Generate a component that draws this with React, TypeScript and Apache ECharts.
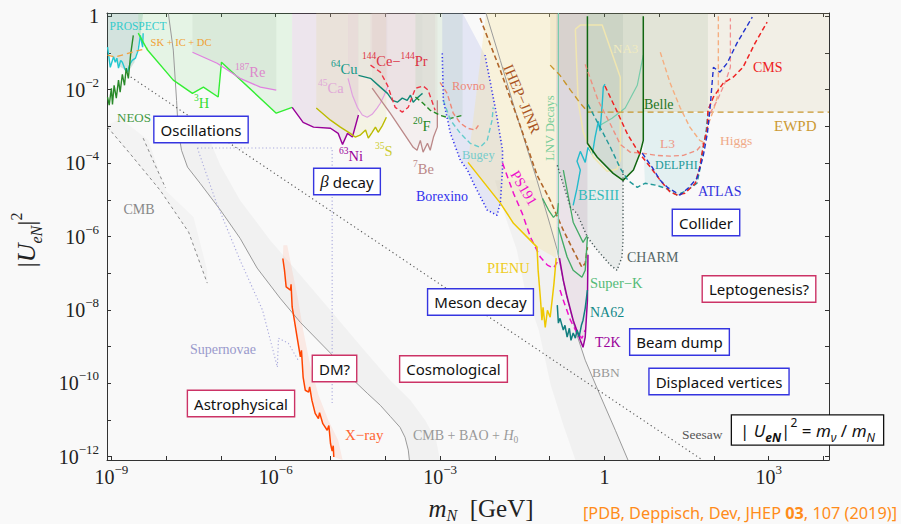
import React, { useEffect, useRef } from 'react';
import * as echarts from 'echarts';

// Every coordinate below is a decimal exponent: [log10(m_N / GeV), log10 |U_eN|^2]
const X_MIN = -9.08;
const X_MAX = 4.1;
const Y_MIN = -12.09;
const Y_MAX = 0.09;

const xTickExps = [-9, -8, -7, -6, -5, -4, -3, -2, -1, 0, 1, 2, 3, 4];
const xLabelExps = [-9, -6, -3, 0, 3];
const yTickExps = [-12, -11, -10, -9, -8, -7, -6, -5, -4, -3, -2, -1, 0];
const yLabelExps = [-12, -10, -8, -6, -4, -2, 0];

// ---- oscillation experiments ----
const neos = [[-9.07, -2.2], [-9.04, -2.42], [-9.0, -1.96], [-8.98, -2.4], [-8.95, -1.88], [-8.91, -2.23], [-8.87, -1.74], [-8.84, -2.07], [-8.8, -1.58], [-8.76, -1.88], [-8.73, -1.41], [-8.69, -1.69], [-8.65, -1.06], [-8.6, -0.52]];
const prospect = [[-9.07, -0.84], [-9.02, -1.39], [-8.96, -1.1], [-8.93, -1.25], [-8.9, -1.14], [-8.87, -1.41], [-8.83, -1.2], [-8.8, -1.25], [-8.75, -1.45], [-8.71, -1.52], [-8.66, -1.3], [-8.62, -1.2], [-8.56, -1.14], [-8.51, -0.92], [-8.47, -0.52], [-8.43, -0.84], [-8.42, -0.46]];
const prospectRegion = [[-9.07, Y_MAX], [-9.07, -0.92], [-8.87, -1.35], [-8.69, -1.52], [-8.58, -1.25], [-8.47, -0.52], [-8.42, Y_MAX]];
const skIcDc = [[-9.07, -1.06], [-8.93, -1.11], [-8.74, -1.03], [-8.56, -0.95], [-8.34, -0.87]];

// ---- beta decay ----
const tritium = [[-8.51, -0.46], [-8.34, -0.92], [-7.87, -1.74], [-7.52, -2.1], [-7.32, -1.93], [-7.05, -2.2], [-6.99, -1.25], [-5.99, -2.64], [-5.7, -2.48]];
const rhenium = [[-7.52, -0.98], [-7.07, -1.28], [-6.65, -1.69], [-6.28, -1.93], [-5.99, -2.01]];
const nickel = [[-5.7, -2.48], [-5.5, -2.89], [-5.31, -3.02], [-5.0, -3.05], [-4.86, -3.19], [-4.78, -3.49], [-4.69, -3.19], [-4.6, -3.29], [-4.49, -2.69]];
const sulfur = [[-5.26, -2.5], [-5.0, -2.83], [-4.82, -3.02], [-4.64, -3.19], [-4.55, -3.29], [-4.46, -3.24], [-4.36, -3.1], [-4.31, -3.32], [-4.24, -3.16], [-4.18, -3.02], [-4.13, -3.16], [-4.05, -2.97], [-3.98, -2.75]];
const calcium = [[-4.68, -1.69], [-4.6, -2.15], [-4.51, -2.48], [-4.42, -2.69], [-4.33, -2.75], [-4.24, -2.67], [-4.15, -2.5], [-4.09, -2.37], [-4.02, -2.15], [-3.96, -1.93]];
const copper = [[-4.49, -1.61], [-4.27, -1.69], [-4.09, -1.93], [-3.96, -2.1], [-3.87, -2.29], [-3.78, -2.34], [-3.69, -2.23], [-3.6, -2.29], [-3.54, -2.15], [-3.49, -2.34], [-3.42, -2.23], [-3.36, -2.15], [-3.32, -2.1]];
const cePr = [[-4.27, -1.33], [-4.09, -1.52], [-3.96, -1.88], [-3.82, -2.48], [-3.69, -2.61], [-3.58, -2.48], [-3.45, -1.96], [-3.31, -1.9], [-3.22, -2.01], [-3.09, -2.56]];
const beryllium = [[-4.24, -1.96], [-3.91, -2.64], [-3.64, -3.24], [-3.49, -3.57], [-3.42, -3.65], [-3.36, -3.38], [-3.31, -3.7], [-3.23, -3.46], [-3.18, -3.65], [-3.12, -3.29], [-3.05, -3.02], [-3.05, -2.29]];
const fluorine = [[-3.45, -2.2], [-3.31, -2.37], [-3.18, -2.56], [-3.0, -2.7], [-2.81, -2.78], [-2.59, -2.7]];
const rovno = [[-3.0, -1.8], [-2.87, -2.1], [-2.76, -2.64], [-2.63, -2.91], [-2.5, -3.05], [-2.36, -3.1], [-2.3, -2.97]];
const bugey = [[-2.94, -2.29], [-2.81, -2.83], [-2.63, -3.19], [-2.45, -3.46], [-2.27, -3.57], [-2.14, -3.38], [-2.05, -2.83], [-2.03, -2.48]];
const borexino = [[-2.96, -1.01], [-2.94, -2.29], [-2.81, -3.19], [-2.63, -3.92], [-2.5, -4.19], [-2.39, -4.55], [-2.14, -5.28], [-1.96, -5.42], [-1.9, -5.09], [-1.86, -4.19], [-1.86, -3.65], [-1.96, -2.75], [-2.08, -1.82], [-2.18, -1.06]];
const borexinoRegion = [[-2.96, Y_MAX], ...borexino, [-2.59, Y_MAX]];

// ---- meson decays / beam dump ----
const ihepJinr = [[-2.27, -0.05], [-1.9, -1.47], [-1.54, -2.97], [-1.23, -4.33], [-0.99, -5.01], [-0.75, -5.83], [-0.57, -6.37], [-0.41, -6.84], [-0.35, -6.73], [-0.31, -6.29]];
const ps191Upper = [[-1.86, -4.0], [-1.66, -4.82], [-1.5, -5.37], [-1.35, -6.02], [-1.17, -6.56], [-1.04, -6.78], [-0.93, -6.86], [-0.86, -6.7]];
const ps191Lower = [[-0.81, -7.46], [-0.75, -7.74], [-0.62, -8.28], [-0.5, -8.63], [-0.41, -8.77], [-0.35, -8.55]];
const pienu = [[-2.49, -3.98], [-1.9, -5.09], [-1.66, -5.64], [-1.23, -6.29], [-1.21, -6.92], [-1.17, -7.65], [-1.14, -8.28], [-1.12, -7.93], [-1.08, -8.48], [-1.04, -8.01], [-0.99, -8.2], [-0.95, -7.68], [-0.92, -7.27], [-0.88, -6.59]];
const mesonRegion = [[-2.16, Y_MAX], [-0.86, Y_MAX], [-0.88, -6.59], [-1.23, -6.29], [-1.66, -5.64], [-1.9, -5.09], [-2.49, -3.98]];
const t2k = [[-0.82, -6.59], [-0.75, -7.19], [-0.68, -7.65], [-0.57, -8.28], [-0.44, -8.83], [-0.39, -9.02], [-0.35, -8.74], [-0.31, -7.74], [-0.3, -6.5]];
const na62 = [[-0.86, -7.87], [-0.84, -8.36], [-0.81, -8.23], [-0.75, -8.55], [-0.72, -8.42], [-0.68, -8.74], [-0.64, -8.5], [-0.61, -8.83], [-0.57, -8.63], [-0.53, -8.77], [-0.5, -8.55], [-0.46, -8.72], [-0.42, -8.42], [-0.39, -8.28], [-0.35, -7.95], [-0.31, -7.46]];
const superK = [[-0.84, -5.75], [-0.68, -6.56], [-0.57, -6.92], [-0.41, -7.11], [-0.35, -6.92], [-0.31, -6.02]];
const superK2 = [[-0.75, -4.19], [-0.57, -5.61], [-0.39, -6.16], [-0.31, -5.97]];
const superK3 = [[-1.13, -4.96], [-1.02, -5.28], [-0.93, -5.48], [-0.86, -5.37], [-0.84, -5.09]];
const lnvEdge = [[-0.84, Y_MAX], [-0.84, -6.5]];
const lnvUpper = [[0.71, -1.06], [0.6, -1.88], [0.38, -2.5], [0.14, -2.78], [-0.08, -2.97]];
const lnvRegion = [[-0.88, Y_MAX], [-0.31, Y_MAX], [-0.31, -7.74], [-0.35, -8.74], [-0.39, -9.02], [-0.44, -8.83], [-0.57, -8.28], [-0.68, -7.65], [-0.75, -7.19], [-0.82, -6.59], [-0.88, -6.2]];
const besiii = [[-0.57, -5.15], [-0.5, -4.68], [-0.44, -4.19], [-0.5, -3.95], [-0.44, -3.68], [-0.35, -3.98], [-0.3, -3.57], [-0.22, -3.76], [-0.17, -3.29], [-0.11, -2.86], [-0.08, -3.13], [-0.04, -2.4], [-0.02, -1.93], [0.01, -1.85]];
const charm = [[-0.86, -4.06], [-0.62, -5.2], [-0.5, -5.37], [-0.31, -6.02], [-0.13, -6.37], [0.11, -6.78], [0.23, -6.92], [0.32, -6.56], [0.34, -6.1], [0.34, -4.19]];
const na3 = [[-0.53, -0.35], [-0.44, -0.24], [-0.04, -0.24], [0.29, -1.66], [0.29, -3.92], [0.23, -4.17], [0.05, -4.22], [-0.2, -3.84], [-0.39, -3.13], [-0.48, -2.31], [-0.53, -0.35]];

// ---- colliders ----
const belle = [[-0.31, 0.0], [-0.31, -3.46], [-0.13, -3.84], [0.16, -4.28], [0.34, -4.47], [0.53, -4.19], [0.65, -3.73], [0.71, -3.38], [0.71, 0.0]];
const ewpd = [[-0.99, -1.33], [-0.81, -1.61], [-0.62, -2.01], [-0.44, -2.37], [-0.3, -2.61], [4.1, -2.61]];
const colliderUpper = [[0.71, Y_MAX], [1.89, Y_MAX], [1.89, -2.61], [0.71, -2.61]];
const l3 = [[-0.35, -1.31], [-0.11, -2.31], [0.11, -2.94], [0.29, -3.49], [0.47, -3.7], [0.69, -3.73], [0.96, -3.79], [1.2, -3.81], [1.44, -3.79], [1.69, -3.65], [1.8, -3.46]];
const higgsA = [[1.02, -0.98], [1.2, -1.82], [1.38, -2.48], [1.56, -3.02], [1.74, -3.38], [1.84, -3.46]];
const higgsB = [[2.08, 0.0], [2.08, -1.2], [2.08, -2.1], [1.99, -2.56], [1.89, -2.97], [1.84, -3.38]];
const delphi = [[-0.3, -2.4], [-0.08, -3.02], [0.11, -3.57], [0.29, -4.14], [0.43, -4.47], [0.6, -4.66], [0.74, -4.55], [0.93, -4.6], [1.11, -4.68], [1.33, -4.87], [1.51, -4.74], [1.69, -4.55], [1.74, -4.19], [1.8, -3.65], [1.86, -3.1], [1.89, -2.64]];
const delphiRegion = [[0.71, -2.61], [0.71, -3.38], [0.74, -4.55], [0.93, -4.6], [1.11, -4.68], [1.33, -4.87], [1.51, -4.74], [1.69, -4.55], [1.74, -4.19], [1.8, -3.65], [1.86, -3.1], [1.89, -2.64]];
const cms = [[0.01, -1.9], [0.23, -2.59], [0.42, -3.21], [0.62, -3.7], [0.84, -4.11], [1.02, -4.47], [1.2, -4.79], [1.33, -4.87], [1.47, -4.82], [1.66, -4.55], [1.74, -4.11], [1.8, -3.57], [1.88, -3.02], [1.89, -2.56], [1.99, -2.2], [2.17, -1.82], [2.35, -1.66], [2.53, -1.39], [2.75, -0.73], [2.97, -0.16]];
const atlas = [[0.69, -3.73], [0.87, -4.11], [1.02, -4.47], [1.15, -4.66], [1.38, -4.87], [1.53, -4.68], [1.69, -4.41], [1.8, -3.84], [1.88, -3.19], [1.93, -2.48], [1.99, -1.39], [2.11, -1.52], [2.24, -1.28], [2.42, -0.73], [2.7, -0.02]];
const displacedHigh = [[1.93, -2.64], [2.06, -2.29], [2.2, -1.82], [2.3, -1.39], [2.3, -0.05]];

// ---- cosmology and astrophysics ----
const cosmoLine = [[-7.96, 0.08], [-7.87, -0.92], [-7.81, -2.29], [-7.78, -3.1], [-7.72, -3.65], [-7.61, -4.11], [-7.38, -4.55], [-7.01, -5.28], [-6.65, -6.05], [-6.34, -6.86], [-5.92, -7.68], [-5.55, -8.34], [-5.0, -9.18], [-4.64, -9.83], [-4.33, -10.27], [-4.09, -10.6], [-3.91, -10.9], [-3.73, -11.2], [-3.64, -11.47], [-3.58, -11.82], [-3.56, -12.09]];
const cosmoBandEdge = [[-3.0, -12.09], [-3.07, -11.55], [-3.27, -11.01], [-3.54, -10.46], [-3.91, -9.92], [-4.46, -8.96], [-5.0, -8.01], [-5.55, -7.05], [-6.1, -6.1], [-6.65, -5.01], [-7.01, -4.06], [-7.28, -3.1]];
const bbnLine = [[-2.16, 0.08], [-1.9, -1.2], [-1.63, -2.56], [-1.23, -4.47], [-0.99, -5.69], [-0.86, -6.37], [-0.72, -7.46], [-0.53, -8.55], [-0.35, -9.37], [-0.08, -10.32], [0.2, -11.28], [0.43, -12.09]];
const bbnBandEdge = [[-0.53, -12.09], [-0.75, -11.14], [-0.98, -10.05], [-1.2, -8.55], [-1.45, -7.46], [-1.6, -6.37], [-1.8, -5.5], [-2.0, -4.47]];
const cmbRegion = [[-9.07, -2.97], [-8.84, -2.78], [-8.32, -3.38], [-8.01, -4.74], [-7.5, -5.47], [-7.25, -6.92], [-7.25, -7.27], [-7.59, -5.88], [-8.11, -4.74], [-9.07, -3.02]];
const cmbEdgeA = [[-9.07, -3.02], [-8.65, -3.76], [-8.11, -4.74], [-7.59, -5.88], [-7.25, -7.27]];
const cmbEdgeB = [[-8.42, -3.32], [-8.2, -4.06], [-8.01, -4.68]];
const supernovaA = [[-7.43, -3.59], [-4.97, -3.59], [-4.97, -10.54]];
const supernovaB = [[-7.43, -3.59], [-7.1, -5.01], [-6.65, -6.65], [-6.24, -8.01], [-5.97, -9.56], [-5.95, -8.77], [-5.77, -8.91], [-5.59, -9.37]];
const seesaw = [[-8.71, -1.59], [1.79, -12.09]];
const xray = [[-5.87, -6.6], [-5.84, -6.92], [-5.81, -7.37], [-5.73, -7.46], [-5.72, -7.3], [-5.7, -7.92], [-5.66, -8.28], [-5.61, -8.74], [-5.55, -9.28], [-5.53, -9.1], [-5.5, -9.83], [-5.46, -10.19], [-5.4, -10.24], [-5.38, -10.1], [-5.34, -10.46], [-5.28, -10.82], [-5.22, -10.96], [-5.2, -10.8], [-5.14, -11.1], [-5.06, -11.28], [-5.03, -11.15], [-5.0, -11.64], [-4.97, -11.85], [-4.95, -11.7], [-4.94, -12.01]];
const xrayBandEdge = [[-4.78, -12.09], [-4.86, -11.55], [-5.04, -11.01], [-5.22, -10.32], [-5.37, -9.51], [-5.5, -8.55], [-5.59, -7.74], [-5.7, -6.92], [-5.79, -6.24], [-5.86, -6.24]];

const SERIF = '"Liberation Serif", "DejaVu Serif", serif';
const SANS = '"Noto Sans", "Open Sans", sans-serif';

const above = (c: number[][]) => [...c, [c[c.length - 1][0], Y_MAX], [c[0][0], Y_MAX]];

const region = (pts: number[][], color: string) => ({
  type: 'custom',
  silent: true,
  z: 1,
  data: [pts[0]],
  renderItem: (_p: any, api: any) => ({
    type: 'polygon',
    shape: { points: pts.map((q) => api.coord(q)) },
    style: { fill: color },
  }),
});

const curve = (data: number[][], color: string, width = 1.2, type: any = 'solid') => ({
  type: 'line',
  silent: true,
  z: 3,
  data,
  symbol: 'none',
  lineStyle: { color, width, type },
});

const DASH = [5, 3];
const DOT = [1.2, 2.4];

const tag = (x: number, y: number, text: string, color: string, size: number, align = 'left', rotation = 0) => ({
  type: 'text', x, y, rotation, z: 100, silent: true,
  style: { text, fill: color, fontFamily: SERIF, fontSize: size, align, verticalAlign: 'middle' },
});

const iso = (x: number, y: number, text: string, color: string) => ({
  type: 'text', x, y, z: 100, silent: true,
  style: {
    text, fill: color, align: 'left', verticalAlign: 'middle',
    rich: {
      s: { fontFamily: SERIF, fontSize: 9.5, fill: color, verticalAlign: 'top' },
      n: { fontFamily: SERIF, fontSize: 14.5, fill: color, lineHeight: 20 },
    },
  },
});

const box = (x: number, y: number, text: string, border: string, rich?: any) => ({
  type: 'text', x, y, z: 110, silent: true,
  style: {
    text, fill: '#111', fontFamily: SANS, fontSize: 15, lineHeight: 17,
    align: 'center', verticalAlign: 'middle', backgroundColor: '#fff',
    borderColor: border, borderWidth: 1.4, padding: [4, 6, 4, 6], rich,
  },
});

const BLUE = '#3535e0';
const CRIMSON = '#cc3366';

const expLabel = (v: number) => (v === 0 ? '{b|1}' : `{b|10}{s|${v < 0 ? '−' : ''}${Math.abs(v)}}`);
const labelRich = {
  b: { fontFamily: SERIF, fontSize: 20, lineHeight: 28, color: '#222' },
  s: { fontFamily: SERIF, fontSize: 13, verticalAlign: 'top', color: '#222' },
};

const axisCommon = {
  type: 'value',
  axisLine: { show: true, onZero: false, lineStyle: { color: '#333', width: 1 } },
  splitLine: { show: false },
};

const option: any = {
  animation: false,
  backgroundColor: '#f9f9f9',
  grid: { left: 107, right: 72, top: 13, bottom: 64 },
  xAxis: [
    {
      ...axisCommon, min: X_MIN, max: X_MAX, position: 'bottom',
      axisTick: { inside: true, length: 4, customValues: xTickExps, lineStyle: { color: '#333' } },
      axisLabel: { customValues: xLabelExps, formatter: expLabel, rich: labelRich, margin: 3 },
    },
    {
      ...axisCommon, min: X_MIN, max: X_MAX, position: 'top',
      axisTick: { inside: true, length: 4, customValues: xTickExps, lineStyle: { color: '#333' } },
      axisLabel: { show: false },
    },
  ],
  yAxis: [
    {
      ...axisCommon, min: Y_MIN, max: Y_MAX, position: 'left',
      axisTick: { inside: true, length: 4, customValues: yTickExps, lineStyle: { color: '#333' } },
      axisLabel: { customValues: yLabelExps, formatter: expLabel, rich: labelRich, margin: 8 },
    },
    {
      ...axisCommon, min: Y_MIN, max: Y_MAX, position: 'right',
      axisTick: { inside: true, length: 4, customValues: yTickExps, lineStyle: { color: '#333' } },
      axisLabel: { show: false },
    },
  ],
  series: [
    // shaded regions
    region([...cosmoLine.slice(3), ...cosmoBandEdge], 'rgba(0,0,0,0.03)'),
    region([...bbnLine.slice(3), ...bbnBandEdge], 'rgba(0,0,0,0.03)'),
    region(cmbRegion, 'rgba(0,0,0,0.022)'),
    region([...xray, ...xrayBandEdge], 'rgba(255,140,110,0.15)'),
    region(prospectRegion, 'rgba(90,160,140,0.24)'),
    region(above(tritium), 'rgba(100,220,100,0.13)'),
    region(above(rhenium), 'rgba(110,130,110,0.09)'),
    region(above(nickel), 'rgba(170,110,170,0.14)'),
    region(above(sulfur), 'rgba(215,210,120,0.16)'),
    region(above(calcium), 'rgba(220,170,220,0.1)'),
    region(above(copper), 'rgba(150,190,180,0.08)'),
    region(above(cePr), 'rgba(230,180,200,0.14)'),
    region(above(beryllium), 'rgba(210,170,170,0.12)'),
    region(above(fluorine), 'rgba(150,200,150,0.18)'),
    region(borexinoRegion, 'rgba(120,130,220,0.16)'),
    region(mesonRegion, 'rgba(245,225,150,0.3)'),
    region(lnvRegion, 'rgba(160,110,150,0.16)'),
    region(above(ewpd), 'rgba(200,180,110,0.13)'),
    region(colliderUpper, 'rgba(90,140,90,0.1)'),
    region(above(belle), 'rgba(70,120,70,0.14)'),
    region(above(charm), 'rgba(100,130,120,0.1)'),
    region(delphiRegion, 'rgba(110,190,200,0.16)'),
    // cosmology and astrophysics
    curve(cosmoLine, '#9a9a9a', 1),
    curve(bbnLine, '#9a9a9a', 1),
    curve(cmbEdgeA, '#888', 1, [3, 3]),
    curve(cmbEdgeB, '#888', 1, [3, 3]),
    curve(supernovaA, '#a9a9dd', 1.1, DOT),
    curve(supernovaB, '#a9a9dd', 1.1, DOT),
    curve(seesaw, '#555', 1.1, [1.2, 3]),
    curve(xray, '#ff4400', 1.5),
    // oscillations
    curve(prospect, '#22c8d0', 1.4),
    curve(neos, '#2a8a2a', 1.4),
    curve(skIcDc, '#f0a040', 1.3, [6, 4]),
    // beta decay
    curve(tritium, '#33ee33', 1.4),
    curve(rhenium, '#e080e0', 1.3),
    curve(nickel, '#990099', 1.4),
    curve(sulfur, '#bbbb00', 1.4),
    curve(calcium, '#e0a0e0', 1.2),
    curve(copper, '#118877', 1.4),
    curve(cePr, '#ee3344', 1.4, DASH),
    curve(beryllium, '#bb8888', 1.3),
    curve(fluorine, '#228822', 1.4, DASH),
    curve(rovno, '#ee8877', 1.4, DASH),
    curve(bugey, '#66cccc', 1.4, DASH),
    curve(borexino, '#3333ee', 1.6, DOT),
    // meson decays and beam dumps
    curve(ihepJinr, '#b0662a', 1.6, DASH),
    curve(ps191Upper, '#ee11cc', 1.5, [6, 4]),
    curve(ps191Lower, '#ee11cc', 1.5, [6, 4]),
    curve(pienu, '#eec800', 1.5),
    curve(lnvEdge, '#77ccaa', 1.2),
    curve(lnvUpper, '#77ccaa', 1.2),
    curve(superK3, '#44aa66', 1.3),
    curve(superK2, '#44aa66', 1.3),
    curve(superK, '#44aa66', 1.4),
    curve(t2k, '#990099', 1.5),
    curve(na62, '#117f7f', 1.5),
    curve(besiii, '#22bbcc', 1.4),
    curve(charm, '#445555', 1.4, DOT),
    curve(na3, '#f0e6b0', 1.5),
    // colliders
    curve(ewpd, '#c8962e', 1.4, [6, 4]),
    curve(belle, '#116611', 1.5),
    curve(l3, '#ee9080', 1.4, DASH),
    curve(higgsA, '#f5ae80', 1.4, DASH),
    curve(higgsB, '#f5ae80', 1.4, DASH),
    curve(displacedHigh, '#f09090', 1.3, DASH),
    curve(delphi, '#229999', 1.4, DASH),
    curve(cms, '#ee2222', 1.5, DASH),
    curve(atlas, '#2233cc', 1.4, DASH),
  ],
  graphic: [
    // experiment names
    tag(138, 26, 'PROSPECT', '#33cccc', 11.5, 'center'),
    tag(181, 42, 'SK + IC + DC', '#f0a030', 10.5, 'center'),
    tag(134, 117, 'NEOS', '#449944', 13, 'center'),
    iso(235, 72, '{s|187}{n|Re}', '#dd88cc'),
    iso(194, 103, '{s|3}{n|H}', '#33dd33'),
    iso(331, 69, '{s|64}{n|Cu}', '#119988'),
    iso(362, 61, '{s|144}{n|Ce−}{s|144}{n|Pr}', '#dd3344'),
    iso(318, 88, '{s|45}{n|Ca}', '#e0a8d8'),
    iso(413, 126, '{s|20}{n|F}', '#228822'),
    iso(339, 156, '{s|63}{n|Ni}', '#990099'),
    iso(375, 151, '{s|35}{n|S}', '#cccc33'),
    iso(413, 169, '{s|7}{n|Be}', '#bb8888'),
    tag(452, 86, 'Rovno', '#ee8877', 12.5),
    tag(462, 155, 'Bugey', '#77cccc', 12.5),
    tag(416, 196, 'Borexino', '#3333ee', 14),
    tag(522, 99, 'IHEP−JINR', '#aa5522', 15, 'center', -1.17),
    tag(550, 128, 'LNV Decays', '#77cc99', 12.5, 'center', Math.PI / 2),
    tag(524, 188, 'PS191', '#ee11cc', 14.5, 'center', -1.03),
    tag(487, 268, 'PIENU', '#eecc22', 14.5),
    tag(590, 283, 'Super−K', '#55bb77', 14.5),
    tag(590, 312, 'NA62', '#118888', 14),
    tag(595, 342, 'T2K', '#990099', 14),
    tag(578, 195, 'BESIII', '#33bbbb', 14.5),
    tag(627, 257, 'CHARM', '#556666', 14),
    tag(644, 104, 'Belle', '#227722', 14),
    tag(613, 48, 'NA3', '#f0ebc0', 13),
    tag(660, 143, 'L3', '#ee9988', 13.5),
    tag(655, 165, 'DELPHI', '#229999', 12),
    tag(698, 191, 'ATLAS', '#3333dd', 14),
    tag(720, 140, 'Higgs', '#f0aa88', 13.5),
    tag(753, 67, 'CMS', '#ee2222', 14),
    tag(774, 126, 'EWPD', '#cc9933', 15),
    tag(139, 209, 'CMB', '#888888', 14, 'center'),
    tag(223, 349, 'Supernovae', '#9999cc', 14, 'center'),
    tag(345, 435, 'X−ray', '#ff6633', 15),
    {
      type: 'text', x: 413, y: 435, z: 100, silent: true,
      style: {
        text: '{n|CMB + BAO + }{i|H}{d|0}', align: 'left', verticalAlign: 'middle',
        rich: {
          n: { fontFamily: SERIF, fontSize: 14, fill: '#999', lineHeight: 20 },
          i: { fontFamily: SERIF, fontSize: 14, fontStyle: 'italic', fill: '#999', lineHeight: 20 },
          d: { fontFamily: SERIF, fontSize: 9.5, fill: '#999', verticalAlign: 'bottom' },
        },
      },
    },
    tag(592, 372, 'BBN', '#999999', 13.5),
    tag(682, 434, 'Seesaw', '#555555', 13.5),
    // category boxes
    box(201, 129.5, 'Oscillations', BLUE),
    box(347, 181.5, '{g|β}{t| decay}', BLUE, {
      g: { fontFamily: SERIF, fontStyle: 'italic', fontSize: 17, fill: '#111' },
      t: { fontFamily: SANS, fontSize: 15, fill: '#111' },
    }),
    box(480.5, 302, 'Meson decay', BLUE),
    box(706, 222.5, 'Collider', BLUE),
    box(759, 289, 'Leptogenesis?', CRIMSON),
    box(679.5, 342, 'Beam dump', BLUE),
    box(719, 381.5, 'Displaced vertices', BLUE),
    box(453.5, 369, 'Cosmological', CRIMSON),
    box(334.5, 368.5, 'DM?', CRIMSON),
    box(241, 403.5, 'Astrophysical', CRIMSON),
    {
      type: 'text', x: 807.5, y: 430, z: 110, silent: true,
      style: {
        text: '{n|| }{i|U}{b|eN}{n||}{p|2}{n| = }{i|m}{d|ν}{n| / }{i|m}{d|N}',
        align: 'center', verticalAlign: 'middle', backgroundColor: '#fff',
        borderColor: '#111', borderWidth: 1.3, padding: [1, 8, 1, 8],
        rich: {
          n: { fontFamily: SANS, fontSize: 17, fill: '#111', lineHeight: 27 },
          i: { fontFamily: SANS, fontSize: 17, fontStyle: 'italic', fill: '#111', lineHeight: 27 },
          b: { fontFamily: SANS, fontSize: 12, fontStyle: 'italic', fontWeight: 'bold', fill: '#111', verticalAlign: 'bottom' },
          d: { fontFamily: SANS, fontSize: 12, fontStyle: 'italic', fill: '#111', verticalAlign: 'bottom' },
          p: { fontFamily: SANS, fontSize: 12, fill: '#111', verticalAlign: 'top' },
        },
      },
    },
    // axis titles
    {
      type: 'text', x: 481, y: 508, z: 100, silent: true,
      style: {
        text: '{i|m}{d|N}{n|  [GeV]}', align: 'center', verticalAlign: 'middle',
        rich: {
          i: { fontFamily: SERIF, fontSize: 25, fontStyle: 'italic', fill: '#222', lineHeight: 30 },
          d: { fontFamily: SERIF, fontSize: 16, fontStyle: 'italic', fill: '#222', verticalAlign: 'bottom' },
          n: { fontFamily: SERIF, fontSize: 25, fill: '#222', lineHeight: 30 },
        },
      },
    },
    {
      type: 'text', x: 26, y: 240, rotation: Math.PI / 2, z: 100, silent: true,
      style: {
        text: '{n||}{i|U}{d|eN}{n||}{p|2}', align: 'center', verticalAlign: 'middle',
        rich: {
          n: { fontFamily: SERIF, fontSize: 26, fill: '#222', lineHeight: 36 },
          i: { fontFamily: SERIF, fontSize: 26, fontStyle: 'italic', fill: '#222', lineHeight: 36 },
          d: { fontFamily: SERIF, fontSize: 16, fontStyle: 'italic', fill: '#222', verticalAlign: 'bottom' },
          p: { fontFamily: SERIF, fontSize: 16, fill: '#222', verticalAlign: 'top' },
        },
      },
    },
    // reference
    {
      type: 'text', x: 897, y: 513, z: 100, silent: true,
      style: {
        text: '{n|[PDB, Deppisch, Dev, JHEP }{b|03}{n|, 107 (2019)]}', align: 'right', verticalAlign: 'middle',
        rich: {
          n: { fontFamily: SANS, fontSize: 16.3, fill: '#ff8c1a' },
          b: { fontFamily: SANS, fontSize: 16.3, fontWeight: 'bold', fill: '#ff8c1a' },
        },
      },
    },
  ],
};

export default function App() {
  const ref = useRef<HTMLDivElement>(null);
  useEffect(() => {
    const chart = echarts.init(ref.current as HTMLDivElement, null, { renderer: 'svg' });
    chart.setOption(option);
    return () => chart.dispose();
  }, []);
  return (
    <div
      ref={ref}
      style={{ position: 'fixed', left: 0, top: 0, width: 901, height: 524, background: '#f9f9f9' }}
    />
  );
}
